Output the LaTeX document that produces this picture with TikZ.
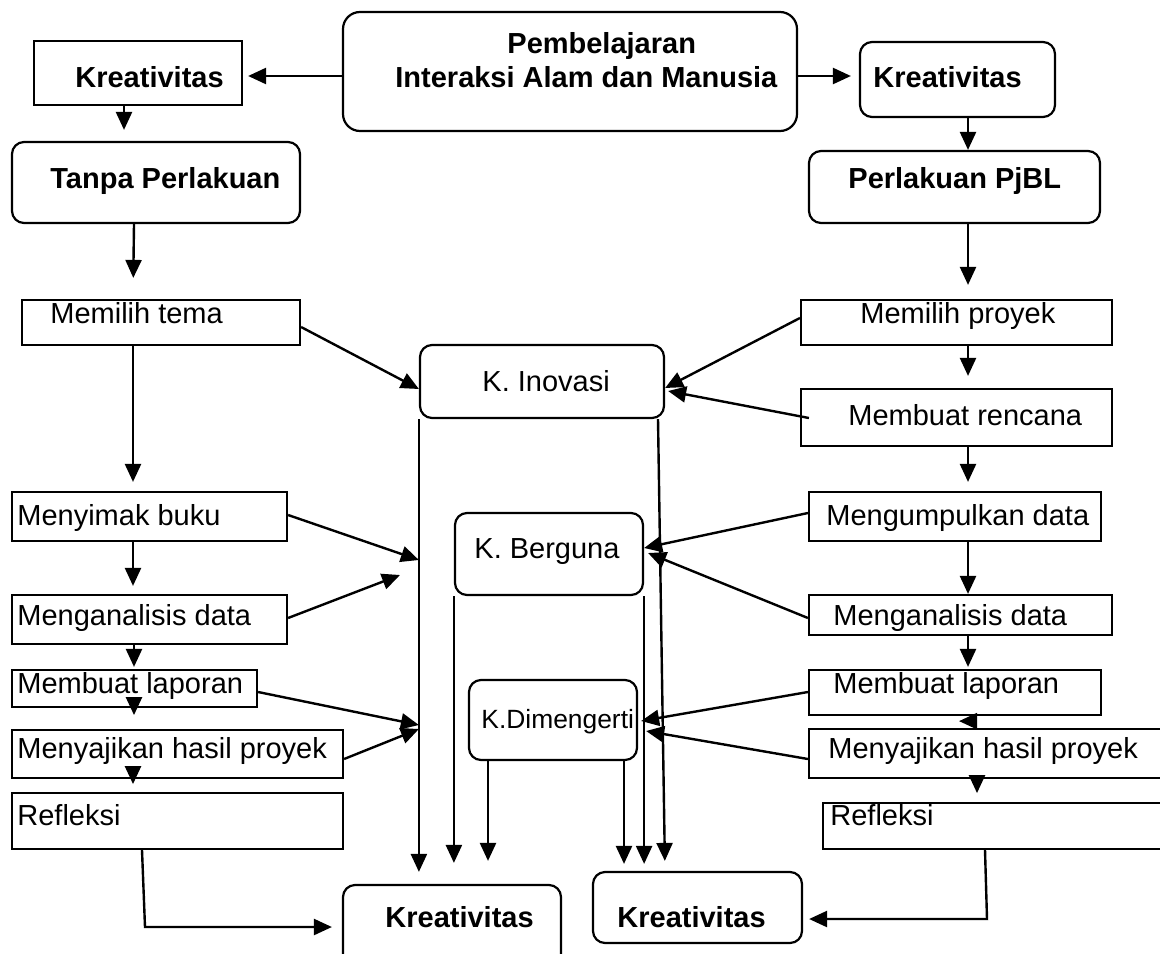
\documentclass[tikz,border=0pt]{standalone}
\usepackage{fontspec}
\setmainfont{Liberation Sans}
\usetikzlibrary{fit,arrows.meta}
\tikzset{
  box/.style={draw, line width=1.1pt, inner sep=0pt},
  rbox/.style={box, rounded corners=6pt},
  txt/.style={anchor=base west, inner sep=0pt, font=\fontsize{14.5}{17}\selectfont},
  txtb/.style={anchor=base west, inner sep=0pt, font=\fontsize{14.5}{17}\selectfont\bfseries},
  arr/.style={line width=1.2pt, -{Triangle[length=9pt,width=8pt]}},
  ln/.style={line width=1.2pt}
}
\begin{document}
\begin{tikzpicture}[x=0.5pt,y=-0.5pt]
\clip (0,0) rectangle (1160,953);
\fill[white] (0,0) rectangle (1160,953);
% boxes
\node[rbox, rounded corners=8.5pt, fit={(343,12) (797,131)}] (top) {};
\node[box, fit={(34,41) (242,105)}] (kl) {};
\node[rbox, fit={(860,42) (1055,117)}] (kr) {};
\node[rbox, fit={(12,142) (300,223)}] (tp) {};
\node[rbox, fit={(809,151) (1100,223)}] (pj) {};
\node[box, fit={(22,300) (300,345)}] (mt) {};
\node[box, fit={(801,300) (1112,345)}] (mp) {};
\node[rbox, fit={(420,345) (664,418)}] (ki) {};
\node[box, fit={(801,389) (1112,446)}] (mr) {};
\node[box, fit={(12,492) (287,541)}] (mb) {};
\node[box, fit={(809,492) (1101,541)}] (md) {};
\node[rbox, fit={(455,513) (643,595)}] (kb) {};
\node[box, fit={(12,595) (287,644)}] (mal) {};
\node[box, fit={(809,595) (1112,635)}] (mar) {};
\node[box, fit={(12,670) (257,707)}] (mll) {};
\node[box, fit={(809,670) (1101,715)}] (mlr) {};
\node[rbox, fit={(469,680) (637,760)}] (kd) {};
\node[box, fit={(12,730) (343,778)}] (msl) {};
\node[box, fit={(809,729) (1175,778)}] (msr) {};
\node[box, fit={(12,793) (343,849)}] (rfl) {};
\node[box, fit={(823,803) (1175,849)}] (rfr) {};
\node[rbox, fit={(343,885) (561,985)}] (kbl) {};
\node[rbox, fit={(593,872) (802,943)}] (kbr) {};
% texts
\node[txtb] (t1) at (507,53) {Pembelajaran};
\node[txtb] (t2) at (395,87) {Interaksi Alam dan Manusia};
\node[txtb] (t3) at (75,87) {Kreativitas};
\node[txtb] (t4) at (873,87) {Kreativitas};
\node[txtb] (t5) at (50,188) {Tanpa Perlakuan};
\node[txtb] (t6) at (848,188) {Perlakuan PjBL};
\node[txt] (t7) at (50,323) {Memilih tema};
\node[txt] (t8) at (860,323) {Memilih proyek};
\node[txt] (t9) at (482,391) {K. Inovasi};
\node[txt] (t10) at (848,425) {Membuat rencana};
\node[txt] (t11) at (17,525) {Menyimak buku};
\node[txt] (t12) at (826,525) {Mengumpulkan data};
\node[txt] (t13) at (474,558) {K. Berguna};
\node[txt] (t14) at (17,625) {Menganalisis data};
\node[txt] (t15) at (833,625) {Menganalisis data};
\node[txt] (t16) at (17,693) {Membuat laporan};
\node[txt] (t17) at (833,693) {Membuat laporan};
\node[txt, font=\fontsize{13.2}{16}\selectfont] (t18) at (481,728) {K.Dimengerti};
\node[txt] (t19) at (17,758) {Menyajikan hasil proyek};
\node[txt] (t20) at (828,758) {Menyajikan hasil proyek};
\node[txt] (t21) at (17,825) {Refleksi};
\node[txt] (t22) at (830,825) {Refleksi};
\node[txtb] (t23) at (385,927) {Kreativitas};
\node[txtb] (t24) at (617,927) {Kreativitas};
% top arrows
\draw[arr, shorten >=2.5pt] (top.west |- 0,76) -- (kl.east |- 0,76);
\draw[arr, shorten >=4pt] (top.east |- 0,76) -- (kr.west |- 0,76);
\draw[arr, shorten >=5.5pt] (124,0 |- kl.south) -- (124,0 |- tp.north);
\draw[arr, shorten >=10.5pt] (134,0 |- tp.south) -- (133,0 |- mt.north);
\draw[arr] (968,0 |- kr.south) -- (968,0 |- pj.north);
\draw[arr, shorten >=7pt] (968,0 |- pj.south) -- (968,0 |- mp.north);
% left chain
\draw[arr, shorten >=4.5pt] (133,0 |- mt.south) -- (133,0 |- mb.north);
\draw[arr, shorten >=4pt] (133,0 |- mb.south) -- (133,0 |- mal.north);
\draw[arr, shorten >=1pt] (134,0 |- mal.south) -- (134,0 |- mll.north);
\draw[arr] (mll.south -| 134,0) ++(0,-11) -- ++(0,18);
\draw[arr] (msl.south -| 133,0) ++(0,-12) -- ++(0,17);
% right chain
\draw[arr, shorten >=6pt] (968,0 |- mp.south) -- (968,0 |- mr.north);
\draw[arr, shorten >=4.5pt] (968,0 |- mr.south) -- (968,0 |- md.north);
\draw[arr] (968,0 |- md.south) -- (968,0 |- mar.north);
\draw[arr, shorten >=1pt] (968,0 |- mar.south) -- (968,0 |- mlr.north);
\draw[ln] (976,0 |- mlr.south) -- (976,0 |- msr.north);
\draw[arr] (mlr.south -| 976,0) ++(0,5) -- ++(-17,0);
\draw[arr] (msr.south -| 977,0) ++(0,-4) -- ++(0,18);
% left to centre
\coordinate (c14) at (400,575);
\draw[arr] (mt.east |- 0,327) -- (ki.west |- 0,389);
\draw[arr] (mb.east |- 0,515) -- (ki.west |- 0,560);
\draw[arr] (mal.east |- 0,618) -- (c14);
\draw[arr] (mll.east |- 0,692) -- (ki.west |- 0,725);
\draw[arr] (msl.east |- 0,759) -- (ki.west |- 0,729);
% right to centre
\draw[arr] (mp.west |- 0,318) -- (ki.east |- 0,388);
\draw[arr] ([xshift=4.5pt]mr.west |- 0,418) -- ([xshift=1.5pt]ki.east |- 0,391);
\draw[arr] (md.west |- 0,513) -- (kb.east |- 0,548);
\draw[arr] (mar.west |- 0,618) -- ([xshift=2pt]kb.east |- 0,553);
\draw[arr] (mlr.west |- 0,692) -- ([xshift=1.5pt]kd.east |- 0,721);
\draw[arr] (msr.west |- 0,759) -- ([xshift=4pt]kd.east |- 0,731);
% verticals down
\draw[arr, shorten >=6pt] (ki.south west) -- (ki.south west |- kbl.north);
\draw[arr, shorten >=10.5pt] (kb.south west) -- (kb.south west |- kbl.north);
\draw[arr, shorten >=11.5pt] (488,0 |- kd.south) -- (488,0 |- kbl.north);
\draw[arr, shorten >=3.5pt] (624,0 |- kd.south) -- (624,0 |- kbr.north);
\draw[arr, shorten >=3.5pt] (kb.south east) -- (kb.south east |- kbr.north);
\draw[arr, shorten >=5pt] (658,0 |- ki.south) -- (665,0 |- kbr.north);
% refleksi
\draw[arr, shorten >=5pt] (142,0 |- rfl.south) -- (145,927) -- (kbl.west |- 0,927);
\draw[arr, shorten >=3pt] (985,0 |- rfr.south) -- (987,919) -- (kbr.east |- 0,919);
\end{tikzpicture}
\end{document}
